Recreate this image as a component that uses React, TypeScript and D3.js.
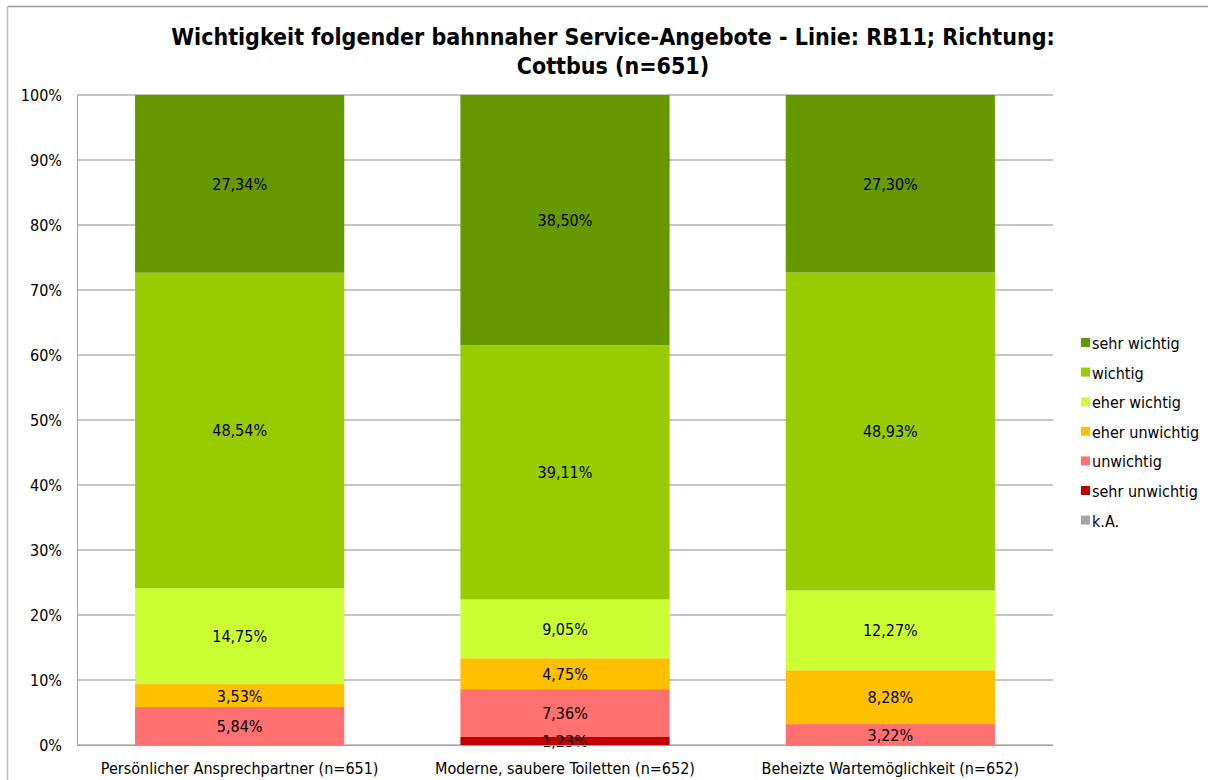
import React from "react";
import * as d3 from "d3";

const categories = [
  "Persönlicher Ansprechpartner (n=651)",
  "Moderne, saubere Toiletten (n=652)",
  "Beheizte Wartemöglichkeit (n=652)",
];
// stacking order bottom -> top
const seriesNames = ["k.A.", "sehr unwichtig", "unwichtig", "eher unwichtig", "eher wichtig", "wichtig", "sehr wichtig"];
const seriesColors = ["#A6A6A6", "#C00000", "#FF7171", "#FFC000", "#CCFF33", "#99CC00", "#669900"];
const kA = [0, 0, 0];
const sehrUnwichtig = [0, 1.23, 0];
const unwichtig = [5.84, 7.36, 3.22];
const eherUnwichtig = [3.53, 4.75, 8.28];
const eherWichtig = [14.75, 9.05, 12.27];
const wichtig = [48.54, 39.11, 48.93];
const sehrWichtig = [27.34, 38.5, 27.3];
const yTicks = [0, 10, 20, 30, 40, 50, 60, 70, 80, 90, 100];
const titleLines = [
  "Wichtigkeit folgender bahnnaher Service-Angebote - Linie: RB11; Richtung:",
  "Cottbus (n=651)",
];

const seriesValues = [kA, sehrUnwichtig, unwichtig, eherUnwichtig, eherWichtig, wichtig, sehrWichtig];

const W = 1208;
const H = 780;
const FONT = "Tahoma, 'DejaVu Sans Condensed', 'DejaVu Sans', sans-serif";
const FS = 16;

export default function App() {
  const left = 77, right = 1053, top = 95, bottom = 745;
  const x = d3.scaleBand<string>().domain(categories).range([left, right]).paddingInner(0.357).paddingOuter(0.1785);
  const y = d3.scaleLinear().domain([0, 100]).range([bottom, top]);

  const table = categories.map((c, i) => {
    const row: any = { cat: c };
    seriesNames.forEach((s, j) => (row[s] = seriesValues[j][i]));
    return row;
  });
  const stacked = d3.stack<any>().keys(seriesNames)(table);

  const fmt = (v: number) => v.toFixed(2).replace(".", ",") + "%";
  const txt = { fontFamily: FONT, fontSize: FS, fill: "#000", style: { fontStretch: "condensed" } } as any;

  return (
    <svg width={W} height={H} style={{ position: "absolute", left: 0, top: 0, display: "block" }}>
      <rect x={0} y={0} width={W} height={H} fill="#fff" />
      <line x1={7.5} y1={6.5} x2={W} y2={6.5} stroke="#999" strokeWidth={1.5} />
      <line x1={7.5} y1={6.5} x2={7.5} y2={H} stroke="#BBB" strokeWidth={1.5} />
      {titleLines.map((t, i) => (
        <text key={i} x={613} y={45 + i * 29} textAnchor="middle" fontFamily={FONT} fontWeight="bold" fontSize={23} fill="#000" style={{ fontStretch: "condensed" }}>
          {t}
        </text>
      ))}
      {yTicks.map((t) => (
        <g key={t}>
          <line x1={left} x2={right} y1={y(t)} y2={y(t)} stroke="#8C8C8C" strokeWidth={1} />
          <text x={62} y={y(t) + 6} textAnchor="end" {...txt}>
            {t}%
          </text>
        </g>
      ))}
      <line x1={left + 0.5} x2={left + 0.5} y1={top} y2={bottom} stroke="#A0A0A0" />
      {stacked.map((layer, j) => (
        <g key={seriesNames[j]} fill={seriesColors[j]}>
          {layer.map((d, i) =>
            d[1] - d[0] > 0 ? (
              <rect key={i} x={x(categories[i])} width={x.bandwidth()} y={y(d[1])} height={y(d[0]) - y(d[1])} />
            ) : null
          )}
        </g>
      ))}
      {stacked.map((layer, j) =>
        layer.map((d, i) =>
          d[1] - d[0] > 0 ? (
            <text
              key={seriesNames[j] + i}
              x={(x(categories[i]) as number) + x.bandwidth() / 2}
              y={(y(d[0]) + y(d[1])) / 2 + 6}
              textAnchor="middle"
              {...txt}
            >
              {fmt(d[1] - d[0])}
            </text>
          ) : null
        )
      )}
      <line x1={left} x2={right} y1={bottom + 0.5} y2={bottom + 0.5} stroke="#A0A0A0" />
      {categories.map((c) => (
        <text key={c} x={(x(c) as number) + x.bandwidth() / 2} y={774} textAnchor="middle" {...txt}>
          {c}
        </text>
      ))}
      {seriesNames
        .slice()
        .reverse()
        .map((s, k) => {
          const idx = seriesNames.length - 1 - k;
          const ly = 343 + k * 29.6;
          return (
            <g key={s}>
              <rect x={1081} y={ly - 5} width={9} height={9} fill={seriesColors[idx]} />
              <text x={1092} y={ly + 6} {...txt}>
                {s}
              </text>
            </g>
          );
        })}
    </svg>
  );
}
